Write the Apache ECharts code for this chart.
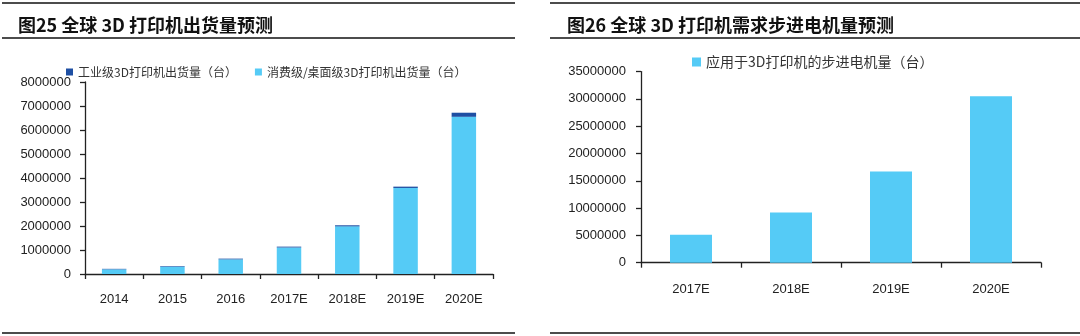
<!DOCTYPE html>
<html><head><meta charset="utf-8">
<script src="https://cdn.jsdelivr.net/npm/echarts@6/dist/echarts.min.js"></script>
<style>html,body{margin:0;padding:0;background:#fff}#c{width:1080px;height:336px}</style>
</head><body><div id="c"></div>
<script>
// Left chart data
const leftTitle = '图25 全球 3D 打印机出货量预测';
const leftCategories = ['2014', '2015', '2016', '2017E', '2018E', '2019E', '2020E'];
const industrialName = '工业级3D打印机出货量（台）';
const consumerName = '消费级/桌面级3D打印机出货量（台）';
const industrialValues = [20000, 25000, 30000, 35000, 45000, 55000, 170000];
const consumerValues = [195000, 305000, 610000, 1105000, 1985000, 3585000, 6550000];
const leftYTicks = { min: 0, max: 8000000, interval: 1000000 };

// Right chart data
const rightTitle = '图26 全球 3D 打印机需求步进电机量预测';
const rightCategories = ['2017E', '2018E', '2019E', '2020E'];
const motorName = '应用于3D打印机的步进电机量（台）';
const motorValues = [5100000, 9200000, 16700000, 30500000];
const rightYTicks = { min: 0, max: 35000000, interval: 5000000 };

const LIGHT = '#55CBF6';
const DARK = '#1E4FA3';
const AXIS = '#222';
const latin = 'Liberation Sans, Arial, sans-serif';
const cjk = '"Noto Sans CJK SC", sans-serif';

const chart = echarts.init(document.getElementById('c'), null, { renderer: 'canvas' });

function yAxis(gi, t, margin) {
  return {
    type: 'value', gridIndex: gi, min: t.min, max: t.max, interval: t.interval,
    axisLine: { show: true, lineStyle: { color: AXIS, width: 1.3 } },
    axisTick: { show: true, length: 5, lineStyle: { color: AXIS, width: 1.3 } },
    axisLabel: { color: '#222', fontSize: 13, fontFamily: latin, margin: margin, formatter: function (v) { return String(v); } },
    splitLine: { show: false }
  };
}
function xAxis(gi, cats, margin) {
  return {
    type: 'category', gridIndex: gi, data: cats,
    axisLine: { lineStyle: { color: AXIS, width: 1.3 } },
    axisTick: { show: true, length: 5, lineStyle: { color: AXIS, width: 1.3 } },
    axisLabel: { color: '#222', fontSize: 13, fontFamily: latin, margin: margin }
  };
}
function hline(x1, x2, y) {
  return { type: 'line', shape: { x1: x1, y1: y, x2: x2, y2: y }, style: { stroke: '#111', lineWidth: 1.6 }, silent: true };
}

chart.setOption({
  animation: false,
  backgroundColor: '#fff',
  title: [
    { text: leftTitle, left: 13, top: 11, textStyle: { fontFamily: cjk, fontSize: 18, fontWeight: 'bold', color: '#111' } },
    { text: rightTitle, left: 562, top: 11, textStyle: { fontFamily: cjk, fontSize: 18, fontWeight: 'bold', color: '#111' } }
  ],
  legend: [
    { data: [industrialName, consumerName], left: 61, top: 61, itemWidth: 7, itemHeight: 7, itemGap: 18, icon: 'rect',
      textStyle: { fontFamily: cjk, fontSize: 12, color: '#333' } },
    { data: [motorName], left: 687, top: 50, itemWidth: 9, itemHeight: 9, icon: 'rect',
      textStyle: { fontFamily: cjk, fontSize: 14, color: '#333' } }
  ],
  grid: [
    { left: 85, right: 587, top: 82, bottom: 62 },
    { left: 641, right: 39, top: 71.6, bottom: 73.3 }
  ],
  xAxis: [xAxis(0, leftCategories, 19), xAxis(1, rightCategories, 20)],
  yAxis: [yAxis(0, leftYTicks, 14), yAxis(1, rightYTicks, 15)],
  series: [
    { name: consumerName, type: 'bar', stack: 'a', xAxisIndex: 0, yAxisIndex: 0, data: consumerValues,
      barWidth: '42%', itemStyle: { color: LIGHT } },
    { name: industrialName, type: 'bar', stack: 'a', xAxisIndex: 0, yAxisIndex: 0, data: industrialValues,
      barWidth: '42%', itemStyle: { color: DARK } },
    { name: motorName, type: 'bar', xAxisIndex: 1, yAxisIndex: 1, data: motorValues,
      barWidth: '42%', itemStyle: { color: LIGHT } }
  ],
  graphic: [
    hline(2, 515, 3), hline(2, 515, 38), hline(2, 515, 333),
    hline(550, 1080, 3), hline(550, 1080, 38), hline(550, 1080, 333)
  ]
});
</script></body></html>
